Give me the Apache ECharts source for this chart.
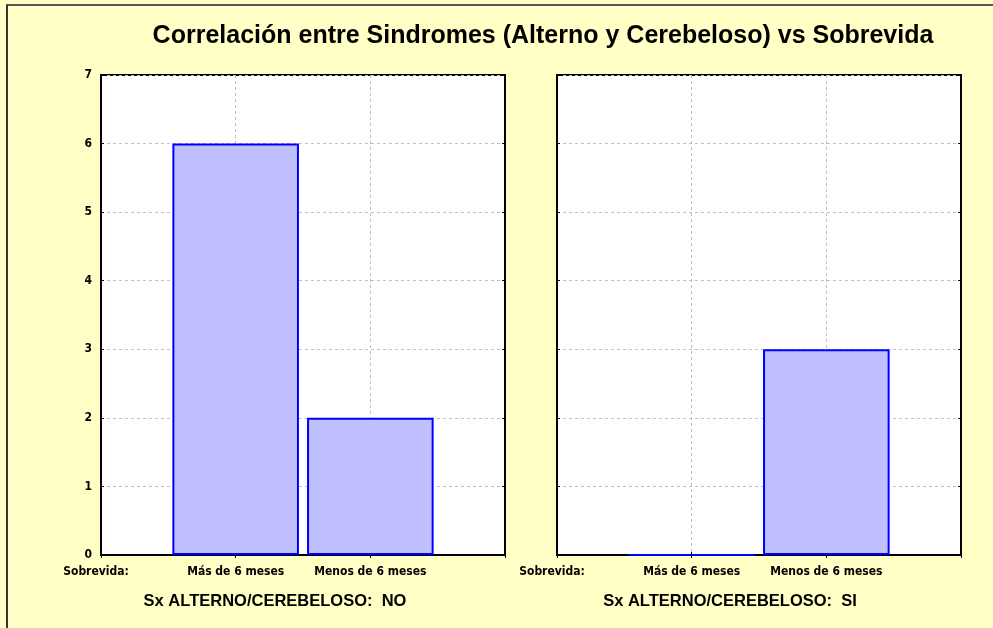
<!DOCTYPE html>
<html lang="es">
  <head>
    <meta charset="UTF-8" />
    <title>Correlación entre Sindromes vs Sobrevida</title>
    <script src="https://cdn.jsdelivr.net/npm/echarts@6/dist/echarts.min.js"></script>
    <style>
      html, body { margin: 0; padding: 0; background: #ffffc6; }
    </style>
  </head>
  <body>
    <div id="main" style="width: 993px; height: 628px"></div>
    <script>
      // categorias del eje X (los extremos van vacios para dejar el hueco a cada lado)
      var categorias = ['', 'Más de 6 meses', 'Menos de 6 meses', ''];
      // conteos por panel
      var valoresNo = [null, 6, 2, null];
      var valoresSi = [null, 0, 3, null];
      var yTicks = [0, 1, 2, 3, 4, 5, 6, 7];
      var panelTitulos = ['Sx ALTERNO/CEREBELOSO:  NO', 'Sx ALTERNO/CEREBELOSO:  SI'];

      var fuenteEje = '"Liberation Sans Narrow", "DejaVu Sans Condensed", Arial, sans-serif';
      var fuente = '"Liberation Sans", Arial, sans-serif';

      var mChart = echarts.init(document.getElementById('main'));

      function ejeX(idx) {
        return {
          type: 'category',
          gridIndex: idx,
          data: categorias,
          boundaryGap: false,
          axisLine: { lineStyle: { color: '#000', width: 2 } },
          axisTick: { show: true, inside: true, length: 3, interval: 0, lineStyle: { color: '#000' } },
          axisLabel: {
            interval: 0,
            margin: 11,
            fontFamily: fuenteEje,
            fontWeight: 'bold',
            fontSize: 12,
            color: '#000'
          },
          splitLine: {
            show: true,
            // solo las lineas interiores, los bordes son el marco
            interval: function (i) { return i > 0 && i < categorias.length - 1; },
            lineStyle: { color: '#c0c0c0', type: [3, 3], width: 1 }
          }
        };
      }

      // eje espejo arriba, solo con marcas
      function ejeXArriba(idx) {
        return {
          type: 'category',
          gridIndex: idx,
          position: 'top',
          z: 3,
          data: categorias,
          boundaryGap: false,
          axisLine: { show: true, lineStyle: { color: '#000', width: 2 } },
          axisTick: { show: true, inside: true, length: 3, interval: 0, lineStyle: { color: '#000' } },
          axisLabel: { show: false },
          splitLine: { show: false }
        };
      }

      function ejeY(idx, labels) {
        return {
          type: 'value',
          gridIndex: idx,
          min: yTicks[0],
          max: yTicks[yTicks.length - 1],
          interval: 1,
          axisLine: { show: true, lineStyle: { color: '#000', width: 2 } },
          axisTick: { show: true, inside: true, length: 3, lineStyle: { color: '#000' } },
          axisLabel: {
            show: labels,
            margin: 9,
            fontFamily: fuenteEje,
            fontWeight: 'bold',
            fontSize: 12,
            color: '#000'
          },
          splitLine: { show: true, lineStyle: { color: '#c0c0c0', type: [3, 3], width: 1 } }
        };
      }

      function ejeYDerecha(idx) {
        return {
          type: 'value',
          gridIndex: idx,
          position: 'right',
          z: 3,
          min: yTicks[0],
          max: yTicks[yTicks.length - 1],
          interval: 1,
          axisLine: { show: true, lineStyle: { color: '#000', width: 2 } },
          axisTick: { show: true, inside: true, length: 3, lineStyle: { color: '#000' } },
          axisLabel: { show: false },
          splitLine: { show: false }
        };
      }

      var estiloBarra = {
        color: '#c0c0ff',
        borderColor: '#0000ff',
        borderWidth: 2
      };

      var option = {
        backgroundColor: '#ffffc6',
        animation: false,
        title: [
          {
            text: 'Correlación entre Sindromes (Alterno y Cerebeloso) vs Sobrevida',
            left: 538,
            top: 19,
            textAlign: 'center',
            textStyle: { fontFamily: fuente, fontWeight: 'bold', fontSize: 25, color: '#000' }
          },
          {
            text: panelTitulos[0],
            left: 270,
            top: 588,
            textAlign: 'center',
            textStyle: { fontFamily: fuente, fontWeight: 'bold', fontSize: 16.5, color: '#000' }
          },
          {
            text: panelTitulos[1],
            left: 725,
            top: 588,
            textAlign: 'center',
            textStyle: { fontFamily: fuente, fontWeight: 'bold', fontSize: 16.5, color: '#000' }
          }
        ],
        grid: [
          { left: 101, top: 75, width: 404, height: 480, show: true, backgroundColor: '#fff', borderColor: '#000', borderWidth: 2 },
          { left: 557, top: 75, width: 404, height: 480, show: true, backgroundColor: '#fff', borderColor: '#000', borderWidth: 2 }
        ],
        xAxis: [ejeX(0), ejeX(1), ejeXArriba(0), ejeXArriba(1)],
        yAxis: [ejeY(0, true), ejeY(1, false), ejeYDerecha(0), ejeYDerecha(1)],
        series: [
          {
            type: 'bar',
            xAxisIndex: 0,
            yAxisIndex: 0,
            z: 4,
            data: valoresNo,
            barWidth: '94%',
            itemStyle: estiloBarra
          },
          {
            type: 'bar',
            xAxisIndex: 1,
            yAxisIndex: 1,
            z: 4,
            data: valoresSi,
            barWidth: '94%',
            itemStyle: estiloBarra
          }
        ],
        graphic: [
          // marco gris arriba y a la izquierda
          { type: 'line', shape: { x1: 6, y1: 5, x2: 993, y2: 5 }, style: { stroke: '#555', lineWidth: 2 } },
          { type: 'line', shape: { x1: 7, y1: 5, x2: 7, y2: 628 }, style: { stroke: '#333', lineWidth: 2 } },
          {
            type: 'text', x: 96, y: 572,
            style: { text: 'Sobrevida:', fontFamily: fuenteEje, fontWeight: 'bold', fontSize: 12, fill: '#000', align: 'center', verticalAlign: 'middle' }
          },
          {
            type: 'text', x: 552, y: 572,
            style: { text: 'Sobrevida:', fontFamily: fuenteEje, fontWeight: 'bold', fontSize: 12, fill: '#000', align: 'center', verticalAlign: 'middle' }
          }
        ]
      };

      mChart.setOption(option);
    </script>
  </body>
</html>
